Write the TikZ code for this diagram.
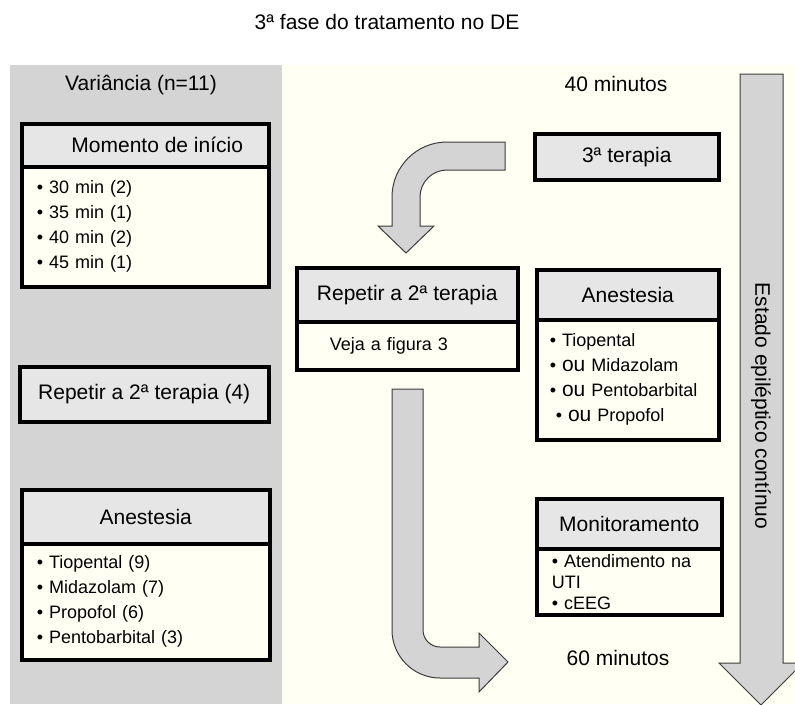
\documentclass[tikz,border=0pt]{standalone}
\usepackage{fontspec}
\setmainfont{Liberation Sans}
\usetikzlibrary{positioning}
\definecolor{panelgray}{HTML}{D4D4D4}
\definecolor{creambg}{HTML}{FFFFF4}
\definecolor{headgray}{HTML}{E6E6E6}
\definecolor{bodycream}{HTML}{FFFFF4}
\definecolor{arrowgray}{HTML}{D4D4D4}
\definecolor{arrowline}{HTML}{3C3C3C}
\newcommand{\hdsize}{\fontsize{21}{25}\selectfont}
\newcommand{\itsize}{\fontsize{18}{25}\selectfont}
\newcommand{\ou}{{\fontsize{21}{25}\selectfont ou}}
\tikzset{
  boxhead/.style={draw, line width=3.5pt, fill=headgray, anchor=north west,
    inner sep=0pt, font=\hdsize},
  boxbody/.style={draw, line width=3.5pt, fill=bodycream, anchor=north west,
    inner ysep=0pt, inner xsep=15pt, align=left, font=\itsize},
  blockarrow/.style={fill=arrowgray, draw=arrowline, line width=1pt},
  plaintext/.style={font=\hdsize, inner sep=0pt}
}

\begin{document}
\begin{tikzpicture}[x=1pt,y=-1pt]
  \useasboundingbox (0,0) rectangle (795,704);
  \clip (0,0) rectangle (795,704);
  % panels
  \fill[panelgray] (10,65) rectangle (282,704);
  \fill[creambg] (282,65) rectangle (795,704);

  \node[plaintext] (title) at (387,22) {3ª fase do tratamento no DE};
  \node[plaintext] (variancia) at (141,85) {Variância (n=11)};
  \node[plaintext] (min40) at (616,84) {40 minutos};
  \node[plaintext] (min60) at (618,658) {60 minutos};

  % left column
  \node[boxbody, text width=217pt, minimum height=120pt] (momento-body) at (20,165)
    {• 30 min (2)\\• 35 min (1)\\• 40 min (2)\\• 45 min (1)};
  \node[boxhead, minimum width=247pt, minimum height=43pt] (momento) at (20,122)
    {\hspace*{24pt}Momento de início};
  \node[boxhead, minimum width=249pt, minimum height=55pt] (repetir4) at (18,365)
    {Repetir a 2ª terapia (4)};
  \node[boxbody, text width=218pt, minimum height=116pt] (anest-left-body) at (20,542)
    {• Tiopental (9)\\• Midazolam (7)\\• Propofol (6)\\• Pentobarbital (3)};
  \node[boxhead, minimum width=248pt, minimum height=54pt] (anest-left) at (20,488)
    {Anestesia};

  % right part
  \node[boxhead, minimum width=184pt, minimum height=46pt] (terapia3) at (533,132)
    {3ª terapia};
  \node[boxbody, inner xsep=33pt, text width=155pt, minimum height=48pt] (repetir-body) at (295,320)
    {Veja a figura 3};
  \node[boxhead, minimum width=221pt, minimum height=54pt] (repetir) at (295,266)
    {Repetir a 2ª terapia};
  \node[boxbody, inner xsep=13pt, text width=156pt, minimum height=120pt] (anest-right-body) at (535,318)
    {• Tiopental\\• \ou\ Midazolam\\• \ou\ Pentobarbital\\\ • \ou\ Propofol};
  \node[boxhead, minimum width=182pt, minimum height=50pt] (anest-right) at (535,268)
    {Anestesia};
  \node[boxbody, font={\fontsize{18}{21}\selectfont}, text width=155pt, minimum height=66pt] (monit-body) at (535,547)
    {• Atendimento na\\UTI\\• cEEG};
  \node[boxhead, minimum width=185pt, minimum height=50pt] (monit) at (535,497)
    {Monitoramento};

  % block arrows
  \draw[blockarrow] (505,142) -- (447,142) arc(270:180:55) -- (392,226) -- (378,226)
    -- (406,253) -- (434,226) -- (420,226) -- (420,197) arc(180:270:27) -- (505,170) -- cycle;
  \draw[blockarrow] (392,389) -- (392,630) arc(180:90:48) -- (479,678) -- (479,692)
    -- (508,662) -- (479,633) -- (479,647) -- (440,647) arc(90:180:17) -- (423,389) -- cycle;
  \draw[blockarrow] (740,74) -- (740,663) -- (719,663) -- (761,705) -- (803,663)
    -- (783,663) -- (783,74) -- cycle;
  \node[plaintext, rotate=-90] (estado) at (761,406) {Estado epiléptico contínuo};
\end{tikzpicture}
\end{document}
